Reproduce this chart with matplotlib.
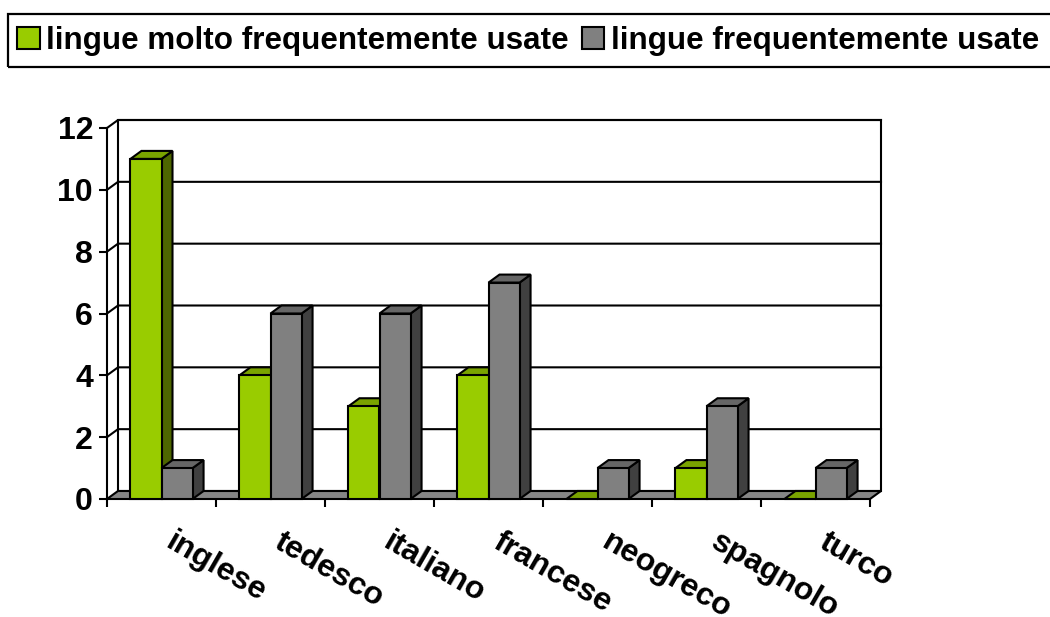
import matplotlib
matplotlib.use("Agg")
import matplotlib.pyplot as plt
from matplotlib.patches import Rectangle, Polygon, Patch
import matplotlib.transforms as mtransforms

plt.rcParams['font.family'] = ['Liberation Sans', 'DejaVu Sans']

# ---- data ----
categories = ["inglese", "tedesco", "italiano", "francese", "neogreco", "spagnolo", "turco"]
series_names = ["lingue molto frequentemente usate", "lingue frequentemente usate"]
molto_frequenti = [11, 4, 3, 4, 0, 1, 0]
frequenti = [1, 6, 6, 7, 1, 3, 1]
y_ticks = [0, 2, 4, 6, 8, 10, 12]

# ---- styles ----
front_cols = ["#99CC00", "#808080"]
top_cols = ["#7AA300", "#666666"]
side_cols = ["#4D6600", "#404040"]
LW = 1.5

W, H = 1050, 617
fig = plt.figure(figsize=(W / 100, H / 100), dpi=100)
fig.patch.set_facecolor("white")

# axes = front plane of the 3D box (pixels: x 107..870, y 499..128)
ax = fig.add_axes([107 / W, (H - 499) / H, 763 / W, 371 / H])
ax.set_xlim(0, len(categories))
ax.set_ylim(0, 12)
ax.patch.set_visible(False)

# depth offset in data units (about 11 px right, 8 px up)
px_x = 763 / len(categories)
px_y = 371 / 12
DX = 11 / px_x
DY = 8 / px_y
N = len(categories)

# back wall
ax.add_patch(Rectangle((DX, DY), N, 12, facecolor="white", edgecolor="black",
                       lw=LW, zorder=0.5, clip_on=False))
# gridlines (side wall diagonal + back wall)
for v in y_ticks[1:]:
    ax.plot([0, DX, N + DX], [v, v + DY, v + DY], color="black", lw=LW,
            zorder=1, clip_on=False, solid_capstyle="projecting")
# floor
ax.add_patch(Polygon([(0, 0), (N, 0), (N + DX, DY), (DX, DY)], closed=True,
                     facecolor="#868686", edgecolor="black", lw=LW, zorder=2,
                     clip_on=False))

# bars
bw = 0.285
start = 0.215
series = [molto_frequenti, frequenti]
z = 3
for i in range(N):
    for s, vals in enumerate(series):
        v = vals[i]
        x0 = i + start + s * bw
        side = Polygon([(x0 + bw, 0), (x0 + bw + DX, DY), (x0 + bw + DX, v + DY), (x0 + bw, v)],
                       closed=True, facecolor=side_cols[s], edgecolor="black", lw=LW,
                       zorder=z, clip_on=False, joinstyle="miter")
        top = Polygon([(x0, v), (x0 + bw, v), (x0 + bw + DX, v + DY), (x0 + DX, v + DY)],
                      closed=True, facecolor=top_cols[s], edgecolor="black", lw=LW,
                      zorder=z, clip_on=False, joinstyle="miter")
        front = Rectangle((x0, 0), bw, v, facecolor=front_cols[s], edgecolor="black",
                          lw=LW, zorder=z + 0.1, clip_on=False, joinstyle="miter")
        ax.add_patch(side)
        ax.add_patch(top)
        if v > 0:
            ax.add_patch(front)
        z += 0.2

# axes / ticks
for sp in ["top", "right", "bottom"]:
    ax.spines[sp].set_visible(False)
ax.spines["left"].set_linewidth(LW)
ax.spines["left"].set_zorder(2.5)
ax.set_yticks(y_ticks)
ax.set_yticklabels([str(t) for t in y_ticks], fontsize=23, fontweight="bold")
ax.tick_params(axis="y", direction="out", length=6, width=LW, pad=4)
ax.set_xticks(range(N + 1))
ax.set_xticklabels([])
ax.tick_params(axis="x", direction="out", length=6, width=LW)

# category labels
lab_tr = mtransforms.offset_copy(ax.transData, fig=fig, x=14 * 0.72, y=-28 * 0.72, units="points")
for i, c in enumerate(categories):
    ax.text(i + 0.5, 0, c, transform=lab_tr, rotation=-30, rotation_mode="anchor",
            ha="left", va="top", fontsize=23, fontweight="bold", clip_on=False)

# legend
handles = [Patch(facecolor=front_cols[k], edgecolor="black", lw=LW) for k in range(2)]
fig.legend(handles, series_names, loc="center left",
           bbox_to_anchor=(17 / W, 1 - 41 / H), ncol=2, frameon=False,
           prop={"family": "Liberation Sans", "weight": "bold", "size": 22.6},
           handlelength=0.72, handleheight=0.72, handletextpad=0.2,
           columnspacing=0.42, borderpad=0, borderaxespad=0)
fig.add_artist(Rectangle((8 / W, 1 - 67 / H), 1.2, 53 / H, transform=fig.transFigure,
                         fill=False, edgecolor="black", lw=1.6))

fig.savefig("out.png", dpi=100, facecolor="white")
